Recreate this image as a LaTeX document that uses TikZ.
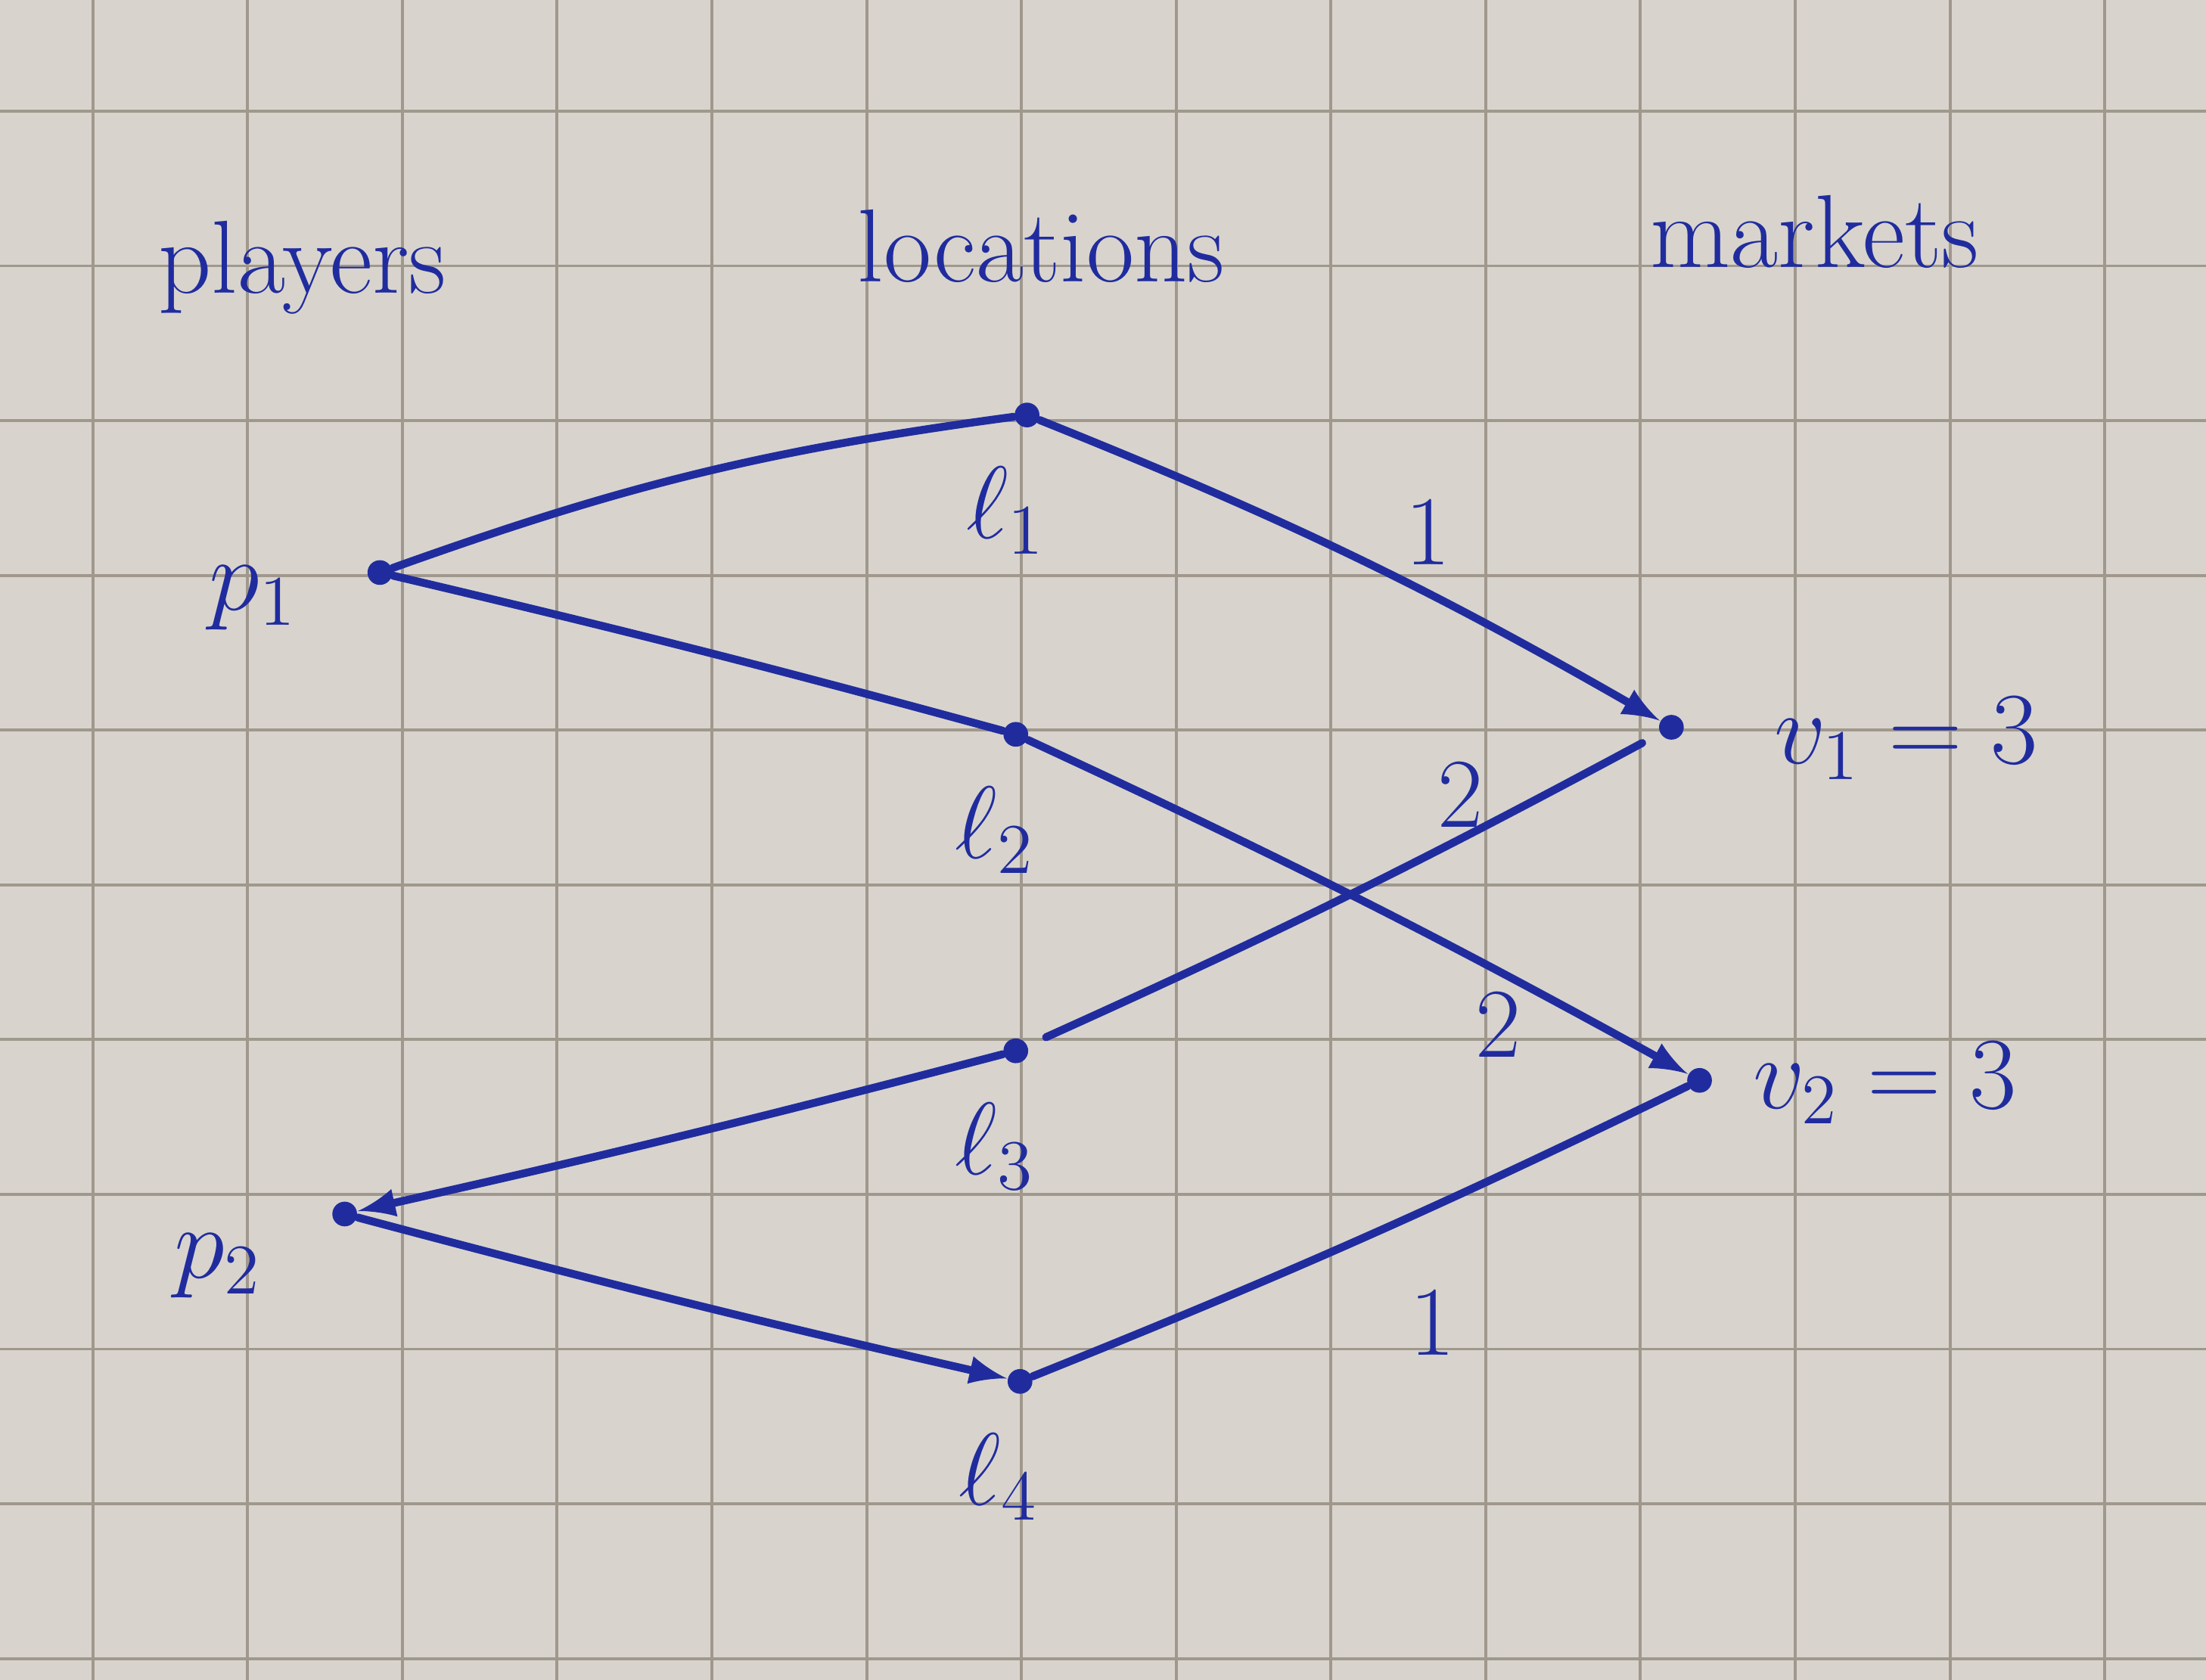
\documentclass[tikz,border=0pt]{standalone}
\usepackage{amsmath}
\usepackage{amssymb}
\usepackage{tikz}

\definecolor{ink}{RGB}{32,44,158}
\definecolor{paper}{RGB}{216,212,205}
\definecolor{gridline}{RGB}{160,152,141}

\begin{document}
\begin{tikzpicture}[
    dot/.style={circle, fill=ink, inner sep=0pt, minimum size=5pt},
    lbl/.style={text=ink, font=\fontsize{21}{25}\selectfont},
    edge/.style={draw=ink, line width=1.6pt, line cap=round},
    wt/.style={text=ink, font=\fontsize{20}{24}\selectfont}
  ]
  % squared paper
  \fill[paper] (0,0) rectangle (15.68,-11.94);
  \useasboundingbox (0,0) rectangle (15.68,-11.94);
  \foreach \k in {-7,...,8}
    \draw[gridline, line width=0.6pt] (7.26+1.1*\k,0) -- (7.26+1.1*\k,-11.94);
  \foreach \k in {-5,...,7}
    \draw[gridline, line width=0.6pt] (0,-5.19-1.1*\k) -- (15.68,-5.19-1.1*\k);

  % column titles
  \node[lbl] (players) at (2.15,-1.90) {players};
  \node[lbl] (locations) at (7.40,-1.75) {locations};
  \node[lbl] (markets) at (12.90,-1.65) {markets};

  % players
  \node[dot] (p1) at (2.70,-4.07) {};
  \node[dot] (p2) at (2.45,-8.63) {};
  \node[lbl] (p1lbl) at (1.80,-4.25) {$p_1$};
  \node[lbl] (p2lbl) at (1.55,-9.00) {$p_2$};

  % locations
  \foreach \i/\x/\y in {1/7.30/-2.95, 2/7.22/-5.22, 3/7.22/-7.47, 4/7.25/-9.82} {
    \node[dot] (l\i) at (\x,\y) {};
    \node[lbl] (l\i lbl) at (\x-0.15,\y-0.68) {$\ell_{\i}$};
  }

  % markets
  \node[dot] (v1) at (11.88,-5.17) {};
  \node[dot] (v2) at (12.08,-7.68) {};
  \node[lbl] (v1lbl) at (13.55,-5.25) {$v_1 = 3$};
  \node[lbl] (v2lbl) at (13.40,-7.70) {$v_2 = 3$};

  % edges
  \draw[edge] (p1) to[bend left=6] (l1);
  \draw[edge] (p1) to[bend left=1] (l2);
  \draw[edge, -latex] (l1) to[bend left=4] (v1);
  \draw[edge, -latex] (l2) to[bend left=2] (v2);
  \draw[edge, shorten <=4pt, shorten >=4pt] (l3) to[bend right=2] (v1);
  \draw[edge, -latex] (l3) to[bend left=1] (p2);
  \draw[edge, -latex] (p2) to[bend right=1] (l4);
  \draw[edge] (l4) to[bend right=2] (v2);

  % weights
  \node[wt] (w1) at (10.15,-3.78) {1};
  \node[wt] (w2) at (10.38,-5.65) {2};
  \node[wt] (w3) at (10.65,-7.28) {2};
  \node[wt] (w4) at (10.18,-9.40) {1};
\end{tikzpicture}
\end{document}
